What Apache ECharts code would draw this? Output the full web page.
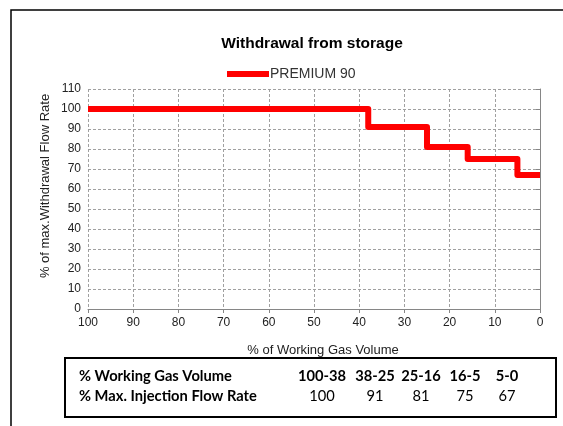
<!DOCTYPE html>
<html>
<head>
<meta charset="utf-8">
<script src="https://cdn.jsdelivr.net/npm/echarts@6/dist/echarts.min.js"></script>
<style>
  html, body { margin: 0; padding: 0; background: #fff; }
  #chart { width: 563px; height: 426px; }
</style>
</head>
<body>
<div id="chart"></div>
<script>
// step chart data: volume breakpoints (% working gas) and withdrawal rate per band
const volumeBreaks = [100, 38, 25, 16, 5, 0];
const flowRates = [100, 91, 81, 75, 67];
const volumeRanges = ['100-38', '38-25', '25-16', '16-5', '5-0'];
const xTicks = [0, 100, 10];   // min, max, interval
const yTicks = [0, 110, 10];

// one point per breakpoint, last one holds the final rate
const stepData = volumeBreaks.map((v, i) => [v, flowRates[Math.min(i, flowRates.length - 1)]]);

const font = 'Liberation Sans, Arial, sans-serif';
const tableFont = 'Lato, Carlito, sans-serif';
const colX = [322, 375, 421, 465, 507];

const tableText = [];
tableText.push({ type: 'text', x: 79, y: 376, style: { text: '% Working Gas Volume', font: 'bold 14.7px ' + tableFont, fill: '#000', verticalAlign: 'middle' } });
tableText.push({ type: 'text', x: 79, y: 396, style: { text: '% Max. Injection Flow Rate', font: 'bold 14.7px ' + tableFont, fill: '#000', verticalAlign: 'middle' } });
volumeRanges.forEach((r, i) => {
  tableText.push({ type: 'text', x: colX[i], y: 376, style: { text: r, font: 'bold 14.7px ' + tableFont, fill: '#000', align: 'center', verticalAlign: 'middle' } });
  tableText.push({ type: 'text', x: colX[i], y: 396, style: { text: String(flowRates[i]), font: '14.7px ' + tableFont, fill: '#000', align: 'center', verticalAlign: 'middle' } });
});

const chart = echarts.init(document.getElementById('chart'), null, { renderer: 'canvas' });
chart.setOption({
  animation: false,
  backgroundColor: '#fff',
  title: {
    text: 'Withdrawal from storage',
    left: 307, top: 31, textAlign: 'center',
    textStyle: { fontFamily: font, fontSize: 15.5, fontWeight: 'bold', color: '#000' }
  },
  legend: {
    data: ['PREMIUM 90'],
    left: 222, top: 62,
    itemWidth: 42, itemHeight: 6, itemGap: 0,
    icon: 'rect',
    textStyle: { fontFamily: font, fontSize: 14, color: '#333', padding: [0, 0, 0, -4] }
  },
  grid: { left: 88, right: 23, top: 89, bottom: 117 },
  xAxis: {
    type: 'value', inverse: true,
    min: xTicks[0], max: xTicks[1], interval: xTicks[2],
    axisLine: { show: true, lineStyle: { color: '#868686', width: 1 } },
    axisTick: { show: true, inside: false, length: 4, lineStyle: { color: '#868686' } },
    axisLabel: { fontFamily: font, fontSize: 12, color: '#222', margin: 8 },
    splitLine: { show: true, lineStyle: { color: '#a0a0a0', type: [3, 2], width: 1 } }
  },
  yAxis: {
    type: 'value',
    min: yTicks[0], max: yTicks[1], interval: yTicks[2],
    axisLine: { show: true, lineStyle: { color: '#868686', width: 1 } },
    axisTick: { show: true, inside: false, length: 4, lineStyle: { color: '#868686' } },
    axisLabel: { fontFamily: font, fontSize: 12, color: '#222', margin: 7 },
    splitLine: { show: true, lineStyle: { color: '#a0a0a0', type: [3, 2], width: 1 } }
  },
  series: [{
    name: 'PREMIUM 90',
    type: 'line',
    step: 'end',
    data: stepData,
    showSymbol: false,
    color: '#ff0000',
    lineStyle: { color: '#ff0000', width: 6, join: 'round' }
  }],
  graphic: [
    // outer chart-area border (top and left visible, rest runs off the picture)
    { type: 'polyline', shape: { points: [[11, 430], [11, 10], [570, 10]] }, style: { stroke: '#000', lineWidth: 1.5, fill: null } },
    { type: 'text', x: 45, y: 186, rotation: Math.PI / 2,
      style: { text: '% of max.Withdrawal Flow Rate', font: '13px ' + font, fill: '#222', align: 'center', verticalAlign: 'middle' } },
    { type: 'text', x: 323, y: 350,
      style: { text: '% of Working Gas Volume', font: '13px ' + font, fill: '#222', align: 'center', verticalAlign: 'middle' } },
    { type: 'rect', shape: { x: 65, y: 358, width: 491, height: 59 }, style: { stroke: '#000', lineWidth: 2, fill: '#fff' } }
  ].concat(tableText)
});
</script>
</body>
</html>
